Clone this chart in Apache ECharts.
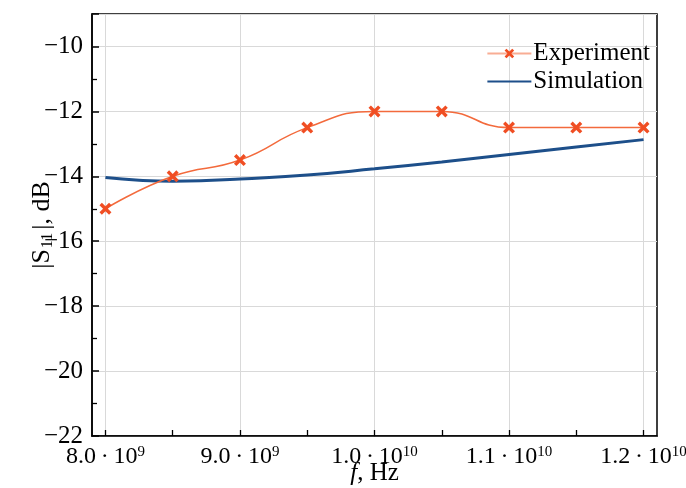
<!DOCTYPE html>
<html>
<head>
<meta charset="utf-8">
<script src="https://cdn.jsdelivr.net/npm/echarts@6/dist/echarts.min.js"></script>
<style>html,body{margin:0;padding:0;background:#fff}#c{width:686px;height:488px}</style>
</head>
<body>
<div id="c"></div>
<script>
// ---- data ----
const expFreq = [8.0e9, 8.5e9, 9.0e9, 9.5e9, 1.0e10, 1.05e10, 1.1e10, 1.15e10, 1.2e10];
const expS11  = [-15.0, -14.0, -13.5, -12.5, -12.0, -12.0, -12.5, -12.5, -12.5];
const simFreq = [8.0e9, 8.25e9, 8.5e9, 8.75e9, 9.0e9, 9.5e9, 1.0e10, 1.05e10, 1.1e10, 1.15e10, 1.2e10];
const simS11  = [-14.04, -14.12, -14.15, -14.13, -14.08, -13.96, -13.77, -13.56, -13.33, -13.10, -12.87];
const xMajorTicks = [8.0e9, 9.0e9, 1.0e10, 1.1e10, 1.2e10];
const xAllTicks = [8.0e9, 8.5e9, 9.0e9, 9.5e9, 1.0e10, 1.05e10, 1.1e10, 1.15e10, 1.2e10];
const seriesNames = ['Experiment', 'Simulation'];

const FONT = 'Liberation Serif';
const xMin = 7.9e9, xMax = 1.21e10;
const chart = echarts.init(document.getElementById('c'), null, {renderer: 'canvas'});

function fmtX(v) {
  const e = Math.floor(Math.log10(v) + 1e-9);
  const m = (v / Math.pow(10, e)).toFixed(1);
  return '{b|' + m + '\u2009\u00b7\u200910}{s|' + e + '}';
}

const option = {
  backgroundColor: '#fff',
  animation: false,
  grid: {left: 92, right: 29, top: 14, bottom: 52, containLabel: false, outerBoundsMode: 'none',
         show: true, borderColor: '#000', borderWidth: 1.5, backgroundColor: 'transparent'},
  legend: {
    orient: 'vertical', right: 36, top: 41, itemWidth: 44, itemHeight: 12, itemGap: 3, padding: 0,
    textStyle: {fontFamily: FONT, fontSize: 25, color: '#000', padding: [0, 0, 0, -3]},
    data: [
      {name: seriesNames[0], lineStyle: {opacity: 0.55}},
      {name: seriesNames[1], itemStyle: {opacity: 0}}
    ]
  },
  xAxis: [{
    type: 'value', min: xMin, max: xMax,
    axisLine: {show: true, lineStyle: {color: '#000', width: 1.5}},
    axisTick: {show: true, inside: true, length: 6, customValues: xAllTicks, lineStyle: {color: '#000', width: 1.3}},
    axisLabel: {show: false},
    splitLine: {show: false}
  }, {
    type: 'value', min: xMin, max: xMax, position: 'bottom',
    axisLine: {show: false},
    axisTick: {show: false, customValues: xMajorTicks},
    axisLabel: {
      show: true, customValues: xMajorTicks, margin: 9,
      formatter: fmtX,
      rich: {
        b: {fontFamily: FONT, fontSize: 24, color: '#000', lineHeight: 24},
        s: {fontFamily: FONT, fontSize: 15, color: '#000', verticalAlign: 'top', lineHeight: 15}
      }
    },
    splitLine: {show: true, lineStyle: {color: '#d9d9d9', width: 1}},
    name: '{i|f}{t|, Hz}', nameLocation: 'middle', nameGap: 25, nameMoveOverlap: false,
    nameTextStyle: {
      rich: {
        i: {fontFamily: FONT, fontSize: 25, fontStyle: 'italic', color: '#000'},
        t: {fontFamily: FONT, fontSize: 25, color: '#000'}
      }
    }
  }],
  yAxis: {
    type: 'value', min: -22, max: -9, interval: 2,
    axisLine: {show: true, lineStyle: {color: '#000', width: 1.5}},
    axisTick: {show: true, inside: true, length: 7, lineStyle: {color: '#000', width: 1.5}},
    minorTick: {show: true, splitNumber: 2, length: 5, lineStyle: {color: '#000', width: 1.3}},
    splitLine: {show: true, lineStyle: {color: '#d9d9d9', width: 1}},
    axisLabel: {
      fontFamily: FONT, fontSize: 25, color: '#000', margin: 9,
      formatter: v => (Math.abs(v) % 2 === 1) ? '' : '\u2212' + Math.abs(v)
    },
    name: '{n||S}{sub|11}{n||, dB}', nameLocation: 'middle', nameGap: 36, nameRotate: 90, nameMoveOverlap: false,
    nameTextStyle: {
      rich: {
        n: {fontFamily: FONT, fontSize: 26, color: '#000', lineHeight: 26, verticalAlign: 'top'},
        sub: {fontFamily: FONT, fontSize: 16, color: '#000', lineHeight: 27, verticalAlign: 'bottom', padding: [0, 3, 0, 1]}
      }
    }
  },
  series: [{
    name: seriesNames[0], type: 'line', xAxisIndex: 0, smooth: 0.5,
    data: expFreq.map((f, i) => [f, expS11[i]]),
    symbol: 'path://M0,2 L2,0 L5,3 L8,0 L10,2 L7,5 L10,8 L8,10 L5,7 L2,10 L0,8 L3,5 Z',
    symbolSize: 12,
    itemStyle: {color: '#f04e23'},
    lineStyle: {color: '#f36a3c', width: 1.5},
    z: 3
  }, {
    name: seriesNames[1], type: 'line', xAxisIndex: 0, smooth: 0.5,
    data: simFreq.map((f, i) => [f, simS11[i]]),
    symbol: 'none', showSymbol: false,
    itemStyle: {color: '#1d4f8a'},
    lineStyle: {color: '#1d4f8a', width: 3},
    z: 2
  }]
};
chart.setOption(option);
</script>
</body>
</html>
